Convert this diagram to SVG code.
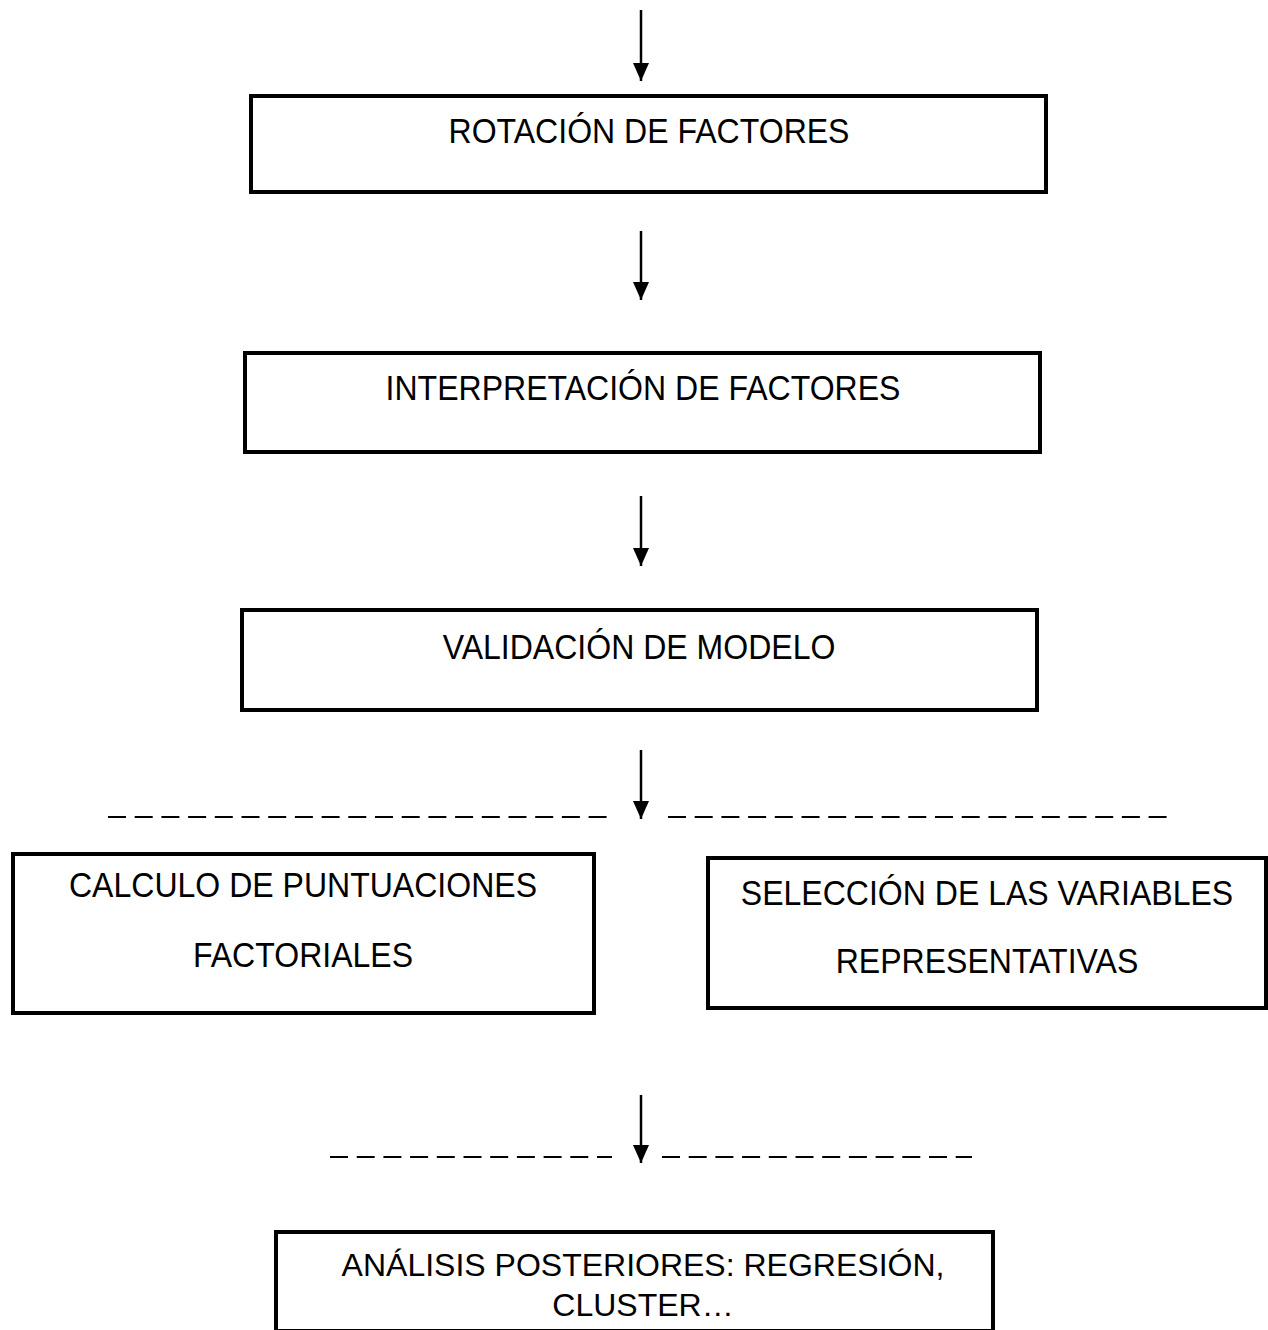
<svg xmlns="http://www.w3.org/2000/svg" width="1268" height="1330" viewBox="0 0 1268 1330">
<style>
.box{fill:#fff;stroke:#000;stroke-width:4}
.t{font-family:"Liberation Sans",Arial,sans-serif;font-size:36px;fill:#000;text-anchor:middle}
.s{font-family:"Liberation Sans",Arial,sans-serif;font-size:32px;fill:#000;text-anchor:middle}
.ar{stroke:#000;stroke-width:2.5;fill:none}
.dash{stroke:#000;stroke-width:2;stroke-dasharray:18 8.7;fill:none}
</style>
<defs>
<marker id="ah" viewBox="0 0 18 16" refX="18" refY="8" markerWidth="18" markerHeight="16" markerUnits="userSpaceOnUse" orient="auto">
<path d="M0,0 L18,8 L0,16 Z" fill="#000"/>
</marker>
</defs>
<rect width="1268" height="1330" fill="#fff"/>
<g id="connectors">
<line class="ar" x1="641" y1="10" x2="641" y2="81" marker-end="url(#ah)"/>
<line class="ar" x1="641" y1="231" x2="641" y2="300" marker-end="url(#ah)"/>
<line class="ar" x1="641" y1="496" x2="641" y2="566" marker-end="url(#ah)"/>
<line class="ar" x1="641" y1="750" x2="641" y2="819" marker-end="url(#ah)"/>
<line class="ar" x1="641" y1="1095" x2="641" y2="1163" marker-end="url(#ah)"/>
<line class="dash" x1="108" y1="817" x2="608" y2="817"/>
<line class="dash" x1="668" y1="817" x2="1168" y2="817"/>
<line class="dash" x1="330" y1="1157" x2="612" y2="1157"/>
<line class="dash" x1="662" y1="1157" x2="972" y2="1157"/>
</g>
<g id="n1">
<rect class="box" x="251" y="96" width="795" height="96"/>
<text class="t" transform="translate(649 143) scale(0.89 1)">ROTACIÓN DE FACTORES</text>
</g>
<g id="n2">
<rect class="box" x="245" y="353" width="795" height="99"/>
<text class="t" transform="translate(643 400) scale(0.89 1)">INTERPRETACIÓN DE FACTORES</text>
</g>
<g id="n3">
<rect class="box" x="242" y="610" width="795" height="100"/>
<text class="t" transform="translate(639 659) scale(0.89 1)">VALIDACIÓN DE MODELO</text>
</g>
<g id="n4">
<rect class="box" x="13" y="854" width="581" height="159"/>
<text class="t" transform="translate(303 897) scale(0.89 1)">CALCULO DE PUNTUACIONES</text>
<text class="t" transform="translate(303 967) scale(0.89 1)">FACTORIALES</text>
</g>
<g id="n5">
<rect class="box" x="708" y="858" width="558" height="150"/>
<text class="t" transform="translate(987 905) scale(0.89 1)">SELECCIÓN DE LAS VARIABLES</text>
<text class="t" transform="translate(987 973) scale(0.89 1)">REPRESENTATIVAS</text>
</g>
<g id="n6">
<rect class="box" x="276" y="1232" width="717" height="99"/>
<text class="s" x="643" y="1276">ANÁLISIS POSTERIORES: REGRESIÓN,</text>
<text class="s" x="643" y="1316">CLUSTER…</text>
</g>
</svg>
